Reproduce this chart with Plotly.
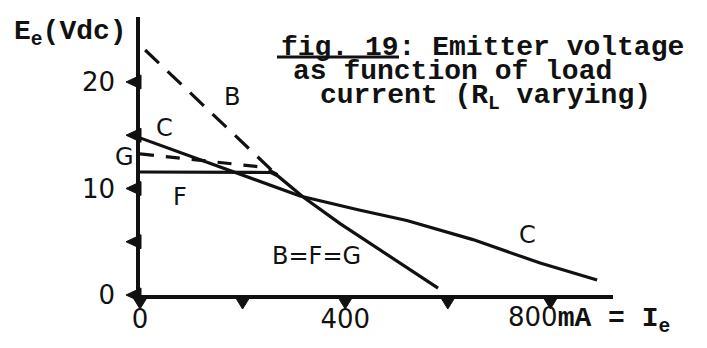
import plotly.graph_objects as go

# Load current I_e (mA) and emitter voltage E_e (Vdc) for each configuration
b_current = [10, 268]
b_voltage = [23.0, 11.2]

g_current = [0, 240, 268]
g_voltage = [13.25, 12.0, 11.3]

f_current = [0, 255, 268, 318, 390, 487, 581]
f_voltage = [11.55, 11.5, 11.2, 9.2, 6.7, 3.6, 0.65]

c_current = [0, 117, 175, 214, 312, 425, 520, 649, 780, 891]
c_voltage = [14.75, 12.7, 11.7, 11.0, 9.3, 8.0, 7.0, 5.2, 3.0, 1.4]

y_ticks = [0, 5, 10, 15, 20]
y_tick_labels = ["0", "", "10", "", "20"]
x_ticks = [0, 200, 400, 600, 800]
x_tick_labels = ["0", "", "400", "", ""]

X_MAX = 922
Y_MAX = 26.1

W, H = 707, 348
L, R, T, B = 140, 94, 17, 53
PW, PH = W - L - R, H - T - B

MONO = "Liberation Mono"
SANS = "DejaVu Sans"
INK = "#111111"


def px(xp, yp):
    """Pixel position in the page -> paper coordinates."""
    return (xp - L) / PW, (H - B - yp) / PH


fig = go.Figure()

line_style = dict(color=INK, width=3.2)
fig.add_trace(go.Scatter(x=b_current, y=b_voltage, mode="lines",
                         line=dict(color=INK, width=3.2, dash="19px,12px"),
                         hoverinfo="skip"))
fig.add_trace(go.Scatter(x=g_current, y=g_voltage, mode="lines",
                         line=dict(color=INK, width=3.2, dash="14px,12px"),
                         hoverinfo="skip"))
fig.add_trace(go.Scatter(x=f_current, y=f_voltage, mode="lines",
                         line=line_style, hoverinfo="skip"))
fig.add_trace(go.Scatter(x=c_current, y=c_voltage, mode="lines",
                         line=line_style, hoverinfo="skip"))

# Triangular tick marks on both axes (anchored in axis-domain units so they
# are not clipped to the plotting area)
shapes = []
for v in y_ticks:
    shapes.append(dict(type="path", xref="x domain", yref="y domain",
                       xsizemode="pixel", ysizemode="pixel",
                       xanchor=0, yanchor=v / Y_MAX,
                       path="M 1,7 L -14,0 L 1,-7 Z",
                       fillcolor=INK, line=dict(color=INK, width=1)))
for v in x_ticks:
    shapes.append(dict(type="path", xref="x domain", yref="y domain",
                       xsizemode="pixel", ysizemode="pixel",
                       xanchor=v / X_MAX, yanchor=0,
                       path="M -8,-1 L 8,-1 L 0,-14 Z",
                       fillcolor=INK, line=dict(color=INK, width=1)))

# underline of the figure number
ux0, uy = px(277, 57)
ux1, _ = px(399, 57)
shapes.append(dict(type="line", xref="paper", yref="paper",
                   x0=ux0, x1=ux1, y0=uy, y1=uy,
                   line=dict(color=INK, width=3)))

annotations = []


def text_at(xp, yp, text, family, size, xanchor="center", yanchor="middle"):
    x, y = px(xp, yp)
    annotations.append(dict(x=x, y=y, xref="paper", yref="paper", text=text,
                            showarrow=False, xanchor=xanchor, yanchor=yanchor,
                            font=dict(family=family, size=size, color=INK)))


# title block
text_at(279, 47, "<b>fig. 19: Emitter voltage</b>", MONO, 28, xanchor="left")
text_at(291, 71, "<b>as function of load</b>", MONO, 28, xanchor="left")
text_at(318, 97, "<b>current (R<sub>L</sub> varying)</b>", MONO, 28, xanchor="left")

# axis titles
text_at(12, 34, "<b>E<sub>e</sub>(Vdc)</b>", MONO, 28, xanchor="left")
text_at(506, 320,
        "800<span style='font-family:Liberation Mono;font-weight:bold;font-size:28px'>"
        "mA = I<sub>e</sub></span>",
        SANS, 26, xanchor="left")

# curve labels
text_at(232, 97, "B", SANS, 24)
text_at(164, 128, "C", SANS, 24)
text_at(124, 157, "G", SANS, 24)
text_at(180, 197, "F", SANS, 24)
text_at(316, 256, "B=F=G", SANS, 24)
text_at(527, 235, "C", SANS, 24)

fig.update_layout(
    width=W, height=H,
    margin=dict(l=L, r=R, t=T, b=B, autoexpand=False),
    paper_bgcolor="white", plot_bgcolor="white",
    showlegend=False,
    shapes=shapes,
    annotations=annotations,
    xaxis=dict(range=[0, X_MAX], showgrid=False, zeroline=False,
               automargin=False,
               showline=True, linecolor=INK, linewidth=3.5,
               tickmode="array", tickvals=x_ticks, ticktext=x_tick_labels,
               ticks="", ticklabelstandoff=-2,
               tickfont=dict(family=SANS, size=26, color=INK)),
    yaxis=dict(range=[0, Y_MAX], showgrid=False, zeroline=False,
               automargin=False,
               showline=True, linecolor=INK, linewidth=3.5,
               tickmode="array", tickvals=y_ticks, ticktext=y_tick_labels,
               ticks="", ticklabelstandoff=16,
               tickfont=dict(family=SANS, size=26, color=INK)),
)

fig.write_html("out.html")
